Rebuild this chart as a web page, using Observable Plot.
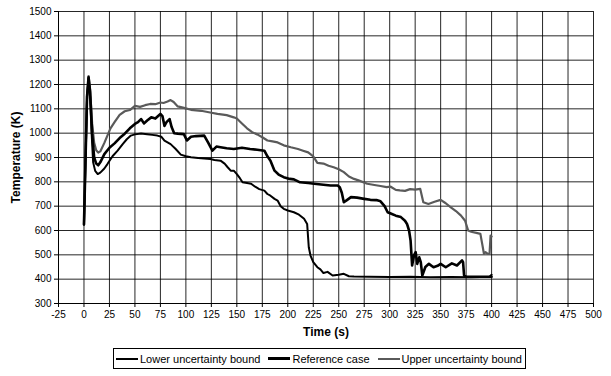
<!DOCTYPE html>
<html>
<head>
<meta charset="utf-8">
<script src="https://cdn.jsdelivr.net/npm/d3@7"></script>
<script src="https://cdn.jsdelivr.net/npm/@observablehq/plot@0.6"></script>
<style>
  body { margin: 0; background: #fff; font-family: "Liberation Sans", Arial, sans-serif; }
  #wrap { position: relative; width: 611px; height: 376px; }
  #legend {
    position: absolute; top: 348px; left: 113px;
    border: 1px solid #000; height: 19px; display: flex; align-items: center;
    font-size: 11px; color: #000; white-space: nowrap; padding: 0 3px 0 2px;
  }
  #legend .item { display: flex; align-items: center; margin-right: 8px; }
  #legend .item:last-child { margin-right: 0; }
  #legend .sw { display: inline-block; width: 22px; height: 0; margin-right: 2px; }
</style>
</head>
<body>
<div id="wrap">
  <div id="chart"></div>
  <div id="legend"></div>
</div>
<script>
// Axis ticks
const xTicks = d3.range(-25, 501, 25);
const yTicks = d3.range(300, 1501, 100);

// Lower uncertainty bound
const timeLower = [0, 1, 3, 4.5, 6, 7.5, 9, 11, 13.5, 16, 20, 23, 28, 33, 38, 42, 46, 50, 56, 62, 67, 72, 76, 79, 82, 85, 90, 95, 100, 105, 112, 118, 124, 128, 134, 138, 141, 144, 147, 150, 153, 155.6, 160, 164, 168, 172, 177, 180, 183, 187, 190, 193, 196, 200, 206, 211, 216, 219, 220.6, 222.3, 225, 229, 232, 235, 239, 244, 250, 255, 260, 265, 280, 300, 320, 340, 360, 380, 398, 400];
const tempLower = [625, 800, 1140, 1225, 1150, 1000, 880, 845, 832, 838, 855, 873, 905, 928, 955, 975, 990, 995, 999, 996, 993, 990, 985, 969, 962, 955, 935, 912, 905, 901, 898, 896, 894, 890, 887, 875, 860, 846, 846, 832, 815, 798, 795, 792, 780, 770, 764, 750, 743, 730, 723, 700, 689, 682, 675, 665, 648, 627, 531, 497, 470, 449, 440, 425, 430, 415, 418, 422, 412, 411, 410, 409, 410, 408, 409, 408, 410, 418];

// Reference case
const timeRef = [0, 1, 3, 4.5, 6, 8, 10, 12, 14, 16, 20, 25, 30, 35, 40, 45, 50, 53, 56, 59, 62, 66, 70, 75, 77, 79, 81, 84, 86, 88.5, 92, 98, 101, 105, 110, 118, 122, 126, 130, 134, 140, 147, 155, 163, 170, 177, 180, 183, 187, 191, 196, 202, 206, 212, 220, 226, 235, 242, 249, 251, 253, 255, 258, 262, 268, 275, 281, 287, 291, 295, 298, 301, 306, 311, 315, 317, 319, 320.5, 322, 324, 325.5, 327, 329, 330.5, 332, 335, 338.5, 343, 347, 350, 355, 361, 366, 371, 372, 373, 375, 385, 395, 400];
const tempRef = [625, 800, 1150, 1230, 1170, 1000, 900, 875, 868, 880, 914, 940, 958, 980, 998, 1020, 1038, 1045, 1058, 1040, 1052, 1065, 1060, 1079, 1070, 1030, 1045, 1058, 1025, 1000, 998, 996, 970, 985, 988, 990, 960, 928, 945, 942, 938, 935, 940, 935, 932, 928, 905, 887, 846, 830, 819, 812, 810, 798, 795, 792, 788, 785, 785, 778, 755, 716, 725, 737, 735, 730, 726, 725, 720, 700, 675, 670, 661, 655, 640, 627, 600, 559, 456, 500, 511, 463, 490, 470, 415, 450, 463, 449, 455, 463, 449, 465, 456, 477, 470, 415, 410, 410, 410, 410];

// Upper uncertainty bound
const timeUpper = [0, 1, 3, 4.5, 6, 8, 10, 12, 14, 16, 20, 26, 30, 35, 40, 45, 50, 55, 60, 65, 70, 75, 78, 82, 85, 88, 92, 98, 105, 115, 125, 131, 140, 147, 150, 155, 160, 165, 170, 175, 180, 185, 190, 196, 203, 210, 215, 220, 225, 229, 235, 240, 245, 250, 255, 260, 265, 270, 278, 285, 291, 297, 301, 306, 310, 315, 320, 325, 330, 333, 338, 344, 350, 355, 360, 365, 370, 374, 377, 380, 385, 389, 391, 392.5, 394, 396, 398, 399, 400];
const tempUpper = [625, 800, 1150, 1235, 1180, 1040, 960, 930, 920, 925, 960, 1020, 1045, 1075, 1090, 1095, 1112, 1108, 1115, 1120, 1119, 1126, 1124, 1130, 1136, 1128, 1110, 1104, 1096, 1092, 1084, 1079, 1074, 1065, 1060, 1040, 1020, 1004, 995, 983, 970, 966, 962, 950, 942, 935, 928, 921, 905, 878, 875, 866, 860, 852, 840, 822, 812, 805, 792, 787, 783, 778, 780, 767, 765, 763, 770, 768, 771, 716, 709, 718, 726, 712, 695, 680, 661, 640, 600, 595, 590, 586, 540, 504, 511, 505, 504, 579, 575];

const seriesNames = ["Lower uncertainty bound", "Reference case", "Upper uncertainty bound"];
const seriesColors = ["#000000", "#000000", "#5a5a5a"];
const seriesWidths = [2, 2.6, 2.2];

const toRows = (times, temps, name) => times.map((t, i) => ({time: t, temp: temps[i], series: name}));
const lower = toRows(timeLower, tempLower, seriesNames[0]);
const reference = toRows(timeRef, tempRef, seriesNames[1]);
const upper = toRows(timeUpper, tempUpper, seriesNames[2]);

const chart = Plot.plot({
  width: 611,
  height: 345,
  marginLeft: 58,
  marginRight: 18,
  marginTop: 11,
  marginBottom: 42,
  style: {fontFamily: "'Liberation Sans', Arial, sans-serif", fontSize: "10px", color: "#000", background: "#fff"},
  x: {domain: [-25, 500], label: null},
  y: {domain: [300, 1500], label: null},
  marks: [
    Plot.gridX(xTicks, {stroke: "#000", strokeOpacity: 0.85, strokeWidth: 1}),
    Plot.gridY(yTicks, {stroke: "#000", strokeOpacity: 0.85, strokeWidth: 1}),
    Plot.axisX({ticks: xTicks, tickSize: 4, tickPadding: 3, label: null, tickFormat: d => String(d), stroke: "#000", strokeOpacity: 1}),
    Plot.axisY({ticks: yTicks, tickSize: 4, tickPadding: 3, label: null, tickFormat: d => String(d), stroke: "#000", strokeOpacity: 1}),
    Plot.ruleX([-25], {stroke: "#000"}),
    Plot.ruleY([300], {stroke: "#000"}),
    Plot.line(upper, {x: "time", y: "temp", stroke: seriesColors[2], strokeWidth: seriesWidths[2], strokeLinejoin: "round"}),
    Plot.line(lower, {x: "time", y: "temp", stroke: seriesColors[0], strokeWidth: seriesWidths[0], strokeLinejoin: "round"}),
    Plot.line(reference, {x: "time", y: "temp", stroke: seriesColors[1], strokeWidth: seriesWidths[1], strokeLinejoin: "round"}),
    Plot.text(["Time (s)"], {frameAnchor: "bottom", dy: 32, fontWeight: "bold", fontSize: 12, textAnchor: "middle"}),
    Plot.text(["Temperature (K)"], {frameAnchor: "left", dx: -42, rotate: -90, fontWeight: "bold", fontSize: 12, textAnchor: "middle"})
  ]
});
document.getElementById("chart").appendChild(chart);

// Legend below the chart
const legend = document.getElementById("legend");
seriesNames.forEach((name, i) => {
  const item = document.createElement("span");
  item.className = "item";
  const sw = document.createElement("span");
  sw.className = "sw";
  sw.style.borderTop = `${seriesWidths[i] + 0.5}px solid ${seriesColors[i]}`;
  const label = document.createElement("span");
  label.textContent = name;
  item.appendChild(sw);
  item.appendChild(label);
  legend.appendChild(item);
});
</script>
</body>
</html>
